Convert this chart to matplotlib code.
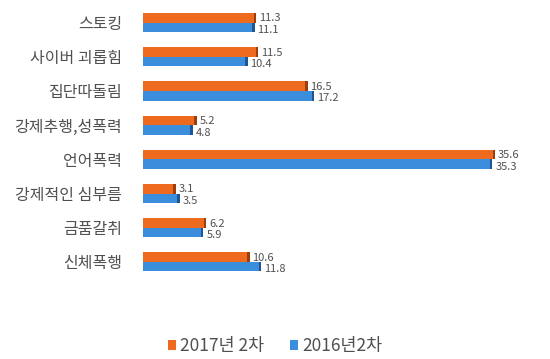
import matplotlib.pyplot as plt
import numpy as np

plt.rcParams['font.family'] = ['Noto Sans CJK KR', 'DejaVu Sans']

categories = ['스토킹', '사이버 괴롭힘', '집단따돌림', '강제추행,성폭력',
              '언어폭력', '강제적인 심부름', '금품갈취', '신체폭행']
v2017 = [11.3, 11.5, 16.5, 5.2, 35.6, 3.1, 6.2, 10.6]
v2016 = [11.1, 10.4, 17.2, 4.8, 35.3, 3.5, 5.9, 11.8]
series_names = ['2017년 2차', '2016년2차']

orange = '#EE6A1E'
blue = '#3A8EDB'
orange_dk = '#9E3E0C'
blue_dk = '#1C5694'

fig = plt.figure(figsize=(5.5, 3.59), dpi=100)
ax = fig.add_axes([0.26, 0.2228, 0.727, 0.762])

y = np.arange(len(categories))
h = 0.28

b1 = ax.barh(y - h / 2, v2017, height=h, color=orange, label=series_names[0])
b2 = ax.barh(y + h / 2, v2016, height=h, color=blue, label=series_names[1])
# darker right cap for the pseudo-3D look
cap = 0.25
ax.barh(y - h / 2, [cap] * len(y), left=v2017, height=h, color=orange_dk)
ax.barh(y + h / 2, [cap] * len(y), left=v2016, height=h, color=blue_dk)

for yi, a, b in zip(y, v2017, v2016):
    ax.text(a + 0.55, yi - h / 2 + 0.02, f'{a:.1f}', va='center', ha='left',
            fontsize=8, color='#505050')
    ax.text(b + 0.55, yi + h / 2 + 0.08, f'{b:.1f}', va='center', ha='left',
            fontsize=8, color='#505050')

ax.set_xlim(0, 40.7)
ax.set_ylim(len(categories) - 0.5, -0.5)
ax.set_yticks(y)
ax.set_yticklabels(categories, fontsize=11.5, color='#505050')
ax.tick_params(axis='y', length=0, pad=15)
ax.set_xticks([])
for s in ax.spines.values():
    s.set_visible(False)

fig.legend(handles=[b1, b2], labels=series_names, loc='center',
           bbox_to_anchor=(0.5, 0.036), ncol=2, frameon=False,
           handlelength=0.45, handleheight=0.5, handletextpad=0.25,
           columnspacing=1.5, prop={'size': 12.5}, labelcolor='#505050')

fig.savefig('out.png', dpi=100)
